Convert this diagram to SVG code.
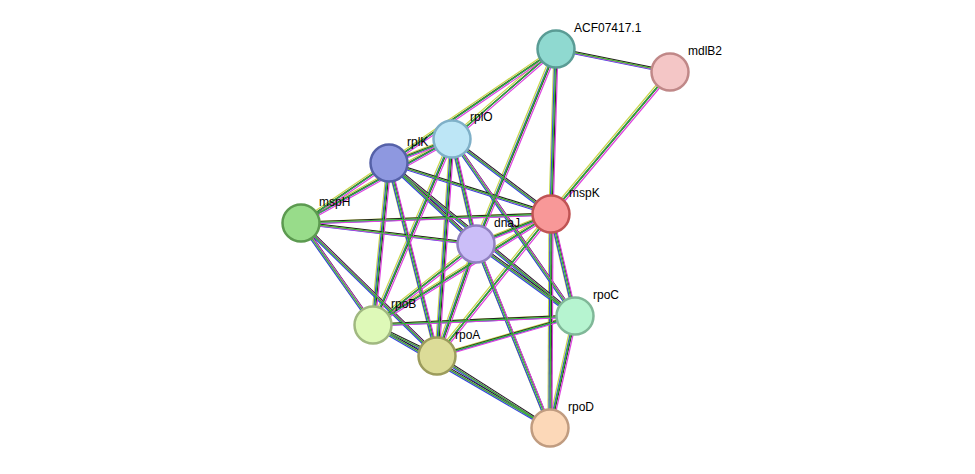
<svg xmlns="http://www.w3.org/2000/svg" xmlns:xlink="http://www.w3.org/1999/xlink" width="975" height="474" viewBox="0 0 975 474">
<style>
.n{stroke-width:2.5}
.t{font-family:"Liberation Sans",Arial,sans-serif;font-size:12px;fill:#000}
#e line{stroke-width:1.2}
</style>
<rect width="975" height="474" fill="#fff"/>
<defs>
<g id="e">
<line x1="556" y1="49" x2="670" y2="72"/><line x1="556" y1="49" x2="452" y2="139"/><line x1="556" y1="49" x2="389" y2="163"/><line x1="556" y1="49" x2="551" y2="214"/><line x1="556" y1="49" x2="476" y2="244"/><line x1="670" y1="72" x2="551" y2="214"/>
<line x1="452" y1="139" x2="389" y2="163"/><line x1="452" y1="139" x2="301" y2="223"/><line x1="452" y1="139" x2="551" y2="214"/><line x1="452" y1="139" x2="476" y2="244"/><line x1="452" y1="139" x2="373" y2="325"/><line x1="452" y1="139" x2="437" y2="356"/><line x1="452" y1="139" x2="575" y2="316"/>
<line x1="389" y1="163" x2="301" y2="223"/><line x1="389" y1="163" x2="551" y2="214"/><line x1="389" y1="163" x2="476" y2="244"/><line x1="389" y1="163" x2="373" y2="325"/><line x1="389" y1="163" x2="437" y2="356"/><line x1="389" y1="163" x2="575" y2="316"/>
<line x1="301" y1="223" x2="551" y2="214"/><line x1="301" y1="223" x2="476" y2="244"/><line x1="301" y1="223" x2="373" y2="325"/><line x1="301" y1="223" x2="437" y2="356"/>
<line x1="551" y1="214" x2="476" y2="244"/><line x1="551" y1="214" x2="373" y2="325"/><line x1="551" y1="214" x2="437" y2="356"/><line x1="551" y1="214" x2="575" y2="316"/><line x1="551" y1="214" x2="550" y2="428"/>
<line x1="476" y1="244" x2="373" y2="325"/><line x1="476" y1="244" x2="437" y2="356"/><line x1="476" y1="244" x2="575" y2="316"/><line x1="476" y1="244" x2="550" y2="428"/>
<line x1="373" y1="325" x2="437" y2="356"/><line x1="373" y1="325" x2="575" y2="316"/><line x1="373" y1="325" x2="550" y2="428"/><line x1="437" y1="356" x2="575" y2="316"/><line x1="437" y1="356" x2="550" y2="428"/><line x1="575" y1="316" x2="550" y2="428"/>
</g>
</defs>
<g id="connectors">
<use xlink:href="#e" stroke="#c8d84a" transform="translate(-2,-1)"/>
<use xlink:href="#e" stroke="#3344dd" transform="translate(-1,1)"/>
<use xlink:href="#e" stroke="#222" transform="translate(1,-1)"/>
<use xlink:href="#e" stroke="#dd44dd" transform="translate(2,1)"/>
<use xlink:href="#e" stroke="#33b533"/>
</g>
<g id="ACF07417.1"><circle class="n" cx="556" cy="49" r="18.5" fill="#8fd9d0" stroke="#5a9c95"/><text class="t" x="574" y="32">ACF07417.1</text></g>
<g id="mdlB2"><circle class="n" cx="670" cy="72" r="18.5" fill="#f4c6c6" stroke="#c08888"/><text class="t" x="688" y="55">mdlB2</text></g>
<g id="rplO"><circle class="n" cx="452" cy="139" r="18.5" fill="#bde6f6" stroke="#7fb0c8"/><text class="t" x="470" y="121">rplO</text></g>
<g id="rplK"><circle class="n" cx="389" cy="163" r="18.5" fill="#8e98e0" stroke="#5561a8"/><text class="t" x="407" y="146">rplK</text></g>
<g id="mspH"><circle class="n" cx="301" cy="223" r="18.5" fill="#98dc8a" stroke="#5c9a50"/><text class="t" x="319" y="206">mspH</text></g>
<g id="mspK"><circle class="n" cx="551" cy="214" r="18.5" fill="#f89898" stroke="#c05454"/><text class="t" x="569" y="197">mspK</text></g>
<g id="dnaJ"><circle class="n" cx="476" cy="244" r="18.5" fill="#cbbef8" stroke="#9080c0"/><text class="t" x="494" y="227">dnaJ</text></g>
<g id="rpoB"><circle class="n" cx="373" cy="325" r="18.5" fill="#def9b8" stroke="#a0b880"/><text class="t" x="391" y="308">rpoB</text></g>
<g id="rpoA"><circle class="n" cx="437" cy="356" r="18.5" fill="#dcdc98" stroke="#9c9c5c"/><text class="t" x="455" y="339">rpoA</text></g>
<g id="rpoC"><circle class="n" cx="575" cy="316" r="18.5" fill="#b6f4d0" stroke="#80b898"/><text class="t" x="593" y="299">rpoC</text></g>
<g id="rpoD"><circle class="n" cx="550" cy="428" r="18.5" fill="#fcd8b8" stroke="#c09c80"/><text class="t" x="568" y="411">rpoD</text></g>
</svg>
